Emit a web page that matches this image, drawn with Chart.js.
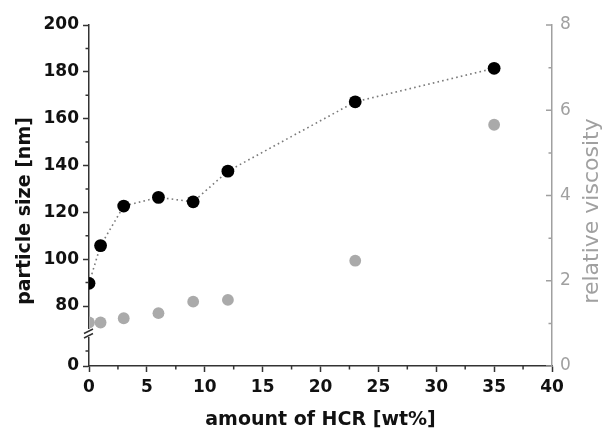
<!DOCTYPE html>
<html>
<head>
<meta charset="utf-8">
<script src="https://cdn.jsdelivr.net/npm/chart.js@4.4.1/dist/chart.umd.min.js"></script>
<style>
  html, body { margin: 0; padding: 0; background: #fff; }
</style>
</head>
<body>
<canvas id="chart" width="603" height="435"></canvas>
<script>
// amount of HCR [wt%]
const hcrAmount = [0, 1, 3, 6, 9, 12, 23, 35];
// particle size [nm], left axis
const particleSize = [89.7, 105.8, 122.7, 126.4, 124.5, 137.6, 167.2, 181.5];
// relative viscosity, right axis
const relViscosity = [1.02, 1.02, 1.12, 1.24, 1.51, 1.55, 2.47, 5.66];

const xTicks = [0, 5, 10, 15, 20, 25, 30, 35, 40];
const xMinor = [2.5, 7.5, 12.5, 17.5, 22.5, 27.5, 32.5, 37.5];
const sizeTicks = [80, 100, 120, 140, 160, 180, 200];
const viscTicks = [0, 2, 4, 6, 8];
const viscMinor = [1, 3, 5, 7];

// left axis is broken: "0" sits at the bottom of a short stub below the break
const SIZE_ZERO = 54.4;
const SIZE_BREAK = 68.5;
const sizeMinor = [60.8, 90, 110, 130, 150, 170, 190];

const FONT = "'DejaVu Sans', sans-serif";
const AXIS = '#333';
const GREY = '#a0a0a0';

const axisExtras = {
  id: 'axisExtras',
  afterDraw(chart) {
    const { ctx, chartArea: ca, scales: { x, y, y1 } } = chart;
    ctx.save();
    ctx.lineWidth = 1.5;

    // minor ticks, x and left
    ctx.strokeStyle = AXIS;
    ctx.beginPath();
    xMinor.forEach(v => {
      const px = x.getPixelForValue(v);
      ctx.moveTo(px, ca.bottom);
      ctx.lineTo(px, ca.bottom + 3.5);
    });
    sizeMinor.forEach(v => {
      const py = y.getPixelForValue(v);
      ctx.moveTo(ca.left, py);
      ctx.lineTo(ca.left - 3.5, py);
    });
    ctx.stroke();

    // right axis ticks point inward
    ctx.strokeStyle = GREY;
    ctx.beginPath();
    viscTicks.forEach(v => {
      const py = y1.getPixelForValue(v);
      ctx.moveTo(ca.right, py);
      ctx.lineTo(ca.right - 6, py);
    });
    viscMinor.forEach(v => {
      const py = y1.getPixelForValue(v);
      ctx.moveTo(ca.right, py);
      ctx.lineTo(ca.right - 3.5, py);
    });
    ctx.stroke();

    // axis break
    const by = y.getPixelForValue(SIZE_BREAK);
    ctx.fillStyle = '#fff';
    ctx.fillRect(ca.left - 2, by - 4, 4, 8);
    ctx.strokeStyle = AXIS;
    ctx.beginPath();
    ctx.moveTo(ca.left - 5, by + 0.5);
    ctx.lineTo(ca.left + 4, by - 4);
    ctx.moveTo(ca.left - 5, by + 5);
    ctx.lineTo(ca.left + 4, by + 0.5);
    ctx.stroke();

    // vertical axis titles
    ctx.textAlign = 'center';
    ctx.textBaseline = 'middle';
    ctx.save();
    ctx.translate(25, 211);
    ctx.rotate(-Math.PI / 2);
    ctx.font = `bold 19px ${FONT}`;
    ctx.fillStyle = '#111';
    ctx.fillText('particle size [nm]', 0, 0);
    ctx.restore();
    ctx.save();
    ctx.translate(592, 211);
    ctx.rotate(-Math.PI / 2);
    ctx.font = `22px ${FONT}`;
    ctx.fillStyle = GREY;
    ctx.fillText('relative viscosity', 0, 0);
    ctx.restore();

    ctx.restore();
  }
};

new Chart(document.getElementById('chart'), {
  type: 'scatter',
  data: {
    datasets: [
      {
        label: 'particle size [nm]',
        data: hcrAmount.map((h, i) => ({ x: h, y: particleSize[i] })),
        yAxisID: 'y',
        showLine: true,
        borderColor: '#7a7a7a',
        borderWidth: 1.6,
        borderDash: [1.6, 3.2],
        pointRadius: 6.4,
        pointBackgroundColor: '#000',
        pointBorderWidth: 0,
        clip: 0,
      },
      {
        label: 'relative viscosity',
        data: hcrAmount.map((h, i) => ({ x: h, y: relViscosity[i] })),
        yAxisID: 'y1',
        showLine: false,
        pointRadius: 5.9,
        pointBackgroundColor: '#aaaaaa',
        pointBorderWidth: 0,
        clip: 0,
      },
    ],
  },
  options: {
    responsive: false,
    animation: false,
    devicePixelRatio: 1,
    layout: { padding: { top: 25, left: 0, right: 0, bottom: 0 } },
    plugins: {
      legend: { display: false },
      tooltip: { enabled: false },
    },
    scales: {
      x: {
        type: 'linear',
        min: 0,
        max: 40,
        afterBuildTicks: s => { s.ticks = xTicks.map(v => ({ value: v })); },
        afterFit: s => { s.height = 69; },
        ticks: {
          font: { family: FONT, size: 17, weight: 'bold' },
          color: '#111',
          padding: 5,
          maxRotation: 0,
        },
        grid: { drawOnChartArea: false, tickLength: 6, tickColor: AXIS, tickWidth: 1.5 },
        border: { color: AXIS, width: 1.5 },
        title: {
          display: true,
          text: 'amount of HCR [wt%]',
          font: { family: FONT, size: 19, weight: 'bold' },
          color: '#111',
          padding: 4,
        },
      },
      y: {
        type: 'linear',
        position: 'left',
        min: SIZE_ZERO,
        max: 200,
        afterBuildTicks: s => { s.ticks = [SIZE_ZERO, ...sizeTicks].map(v => ({ value: v })); },
        afterFit: s => { s.width = 89; },
        ticks: {
          callback: v => (v === SIZE_ZERO ? '0' : v),
          font: { family: FONT, size: 17, weight: 'bold' },
          color: '#111',
          padding: 4,
        },
        grid: { drawOnChartArea: false, tickLength: 6, tickColor: AXIS, tickWidth: 1.5 },
        border: { color: AXIS, width: 1.5 },
      },
      y1: {
        type: 'linear',
        position: 'right',
        min: 0,
        max: 8,
        afterBuildTicks: s => { s.ticks = viscTicks.map(v => ({ value: v })); },
        afterFit: s => { s.width = 51; },
        ticks: {
          font: { family: FONT, size: 17 },
          color: GREY,
          padding: 8,
        },
        grid: { drawOnChartArea: false, drawTicks: false },
        border: { color: GREY, width: 1.5 },
      },
    },
  },
  plugins: [axisExtras],
});
</script>
</body>
</html>
